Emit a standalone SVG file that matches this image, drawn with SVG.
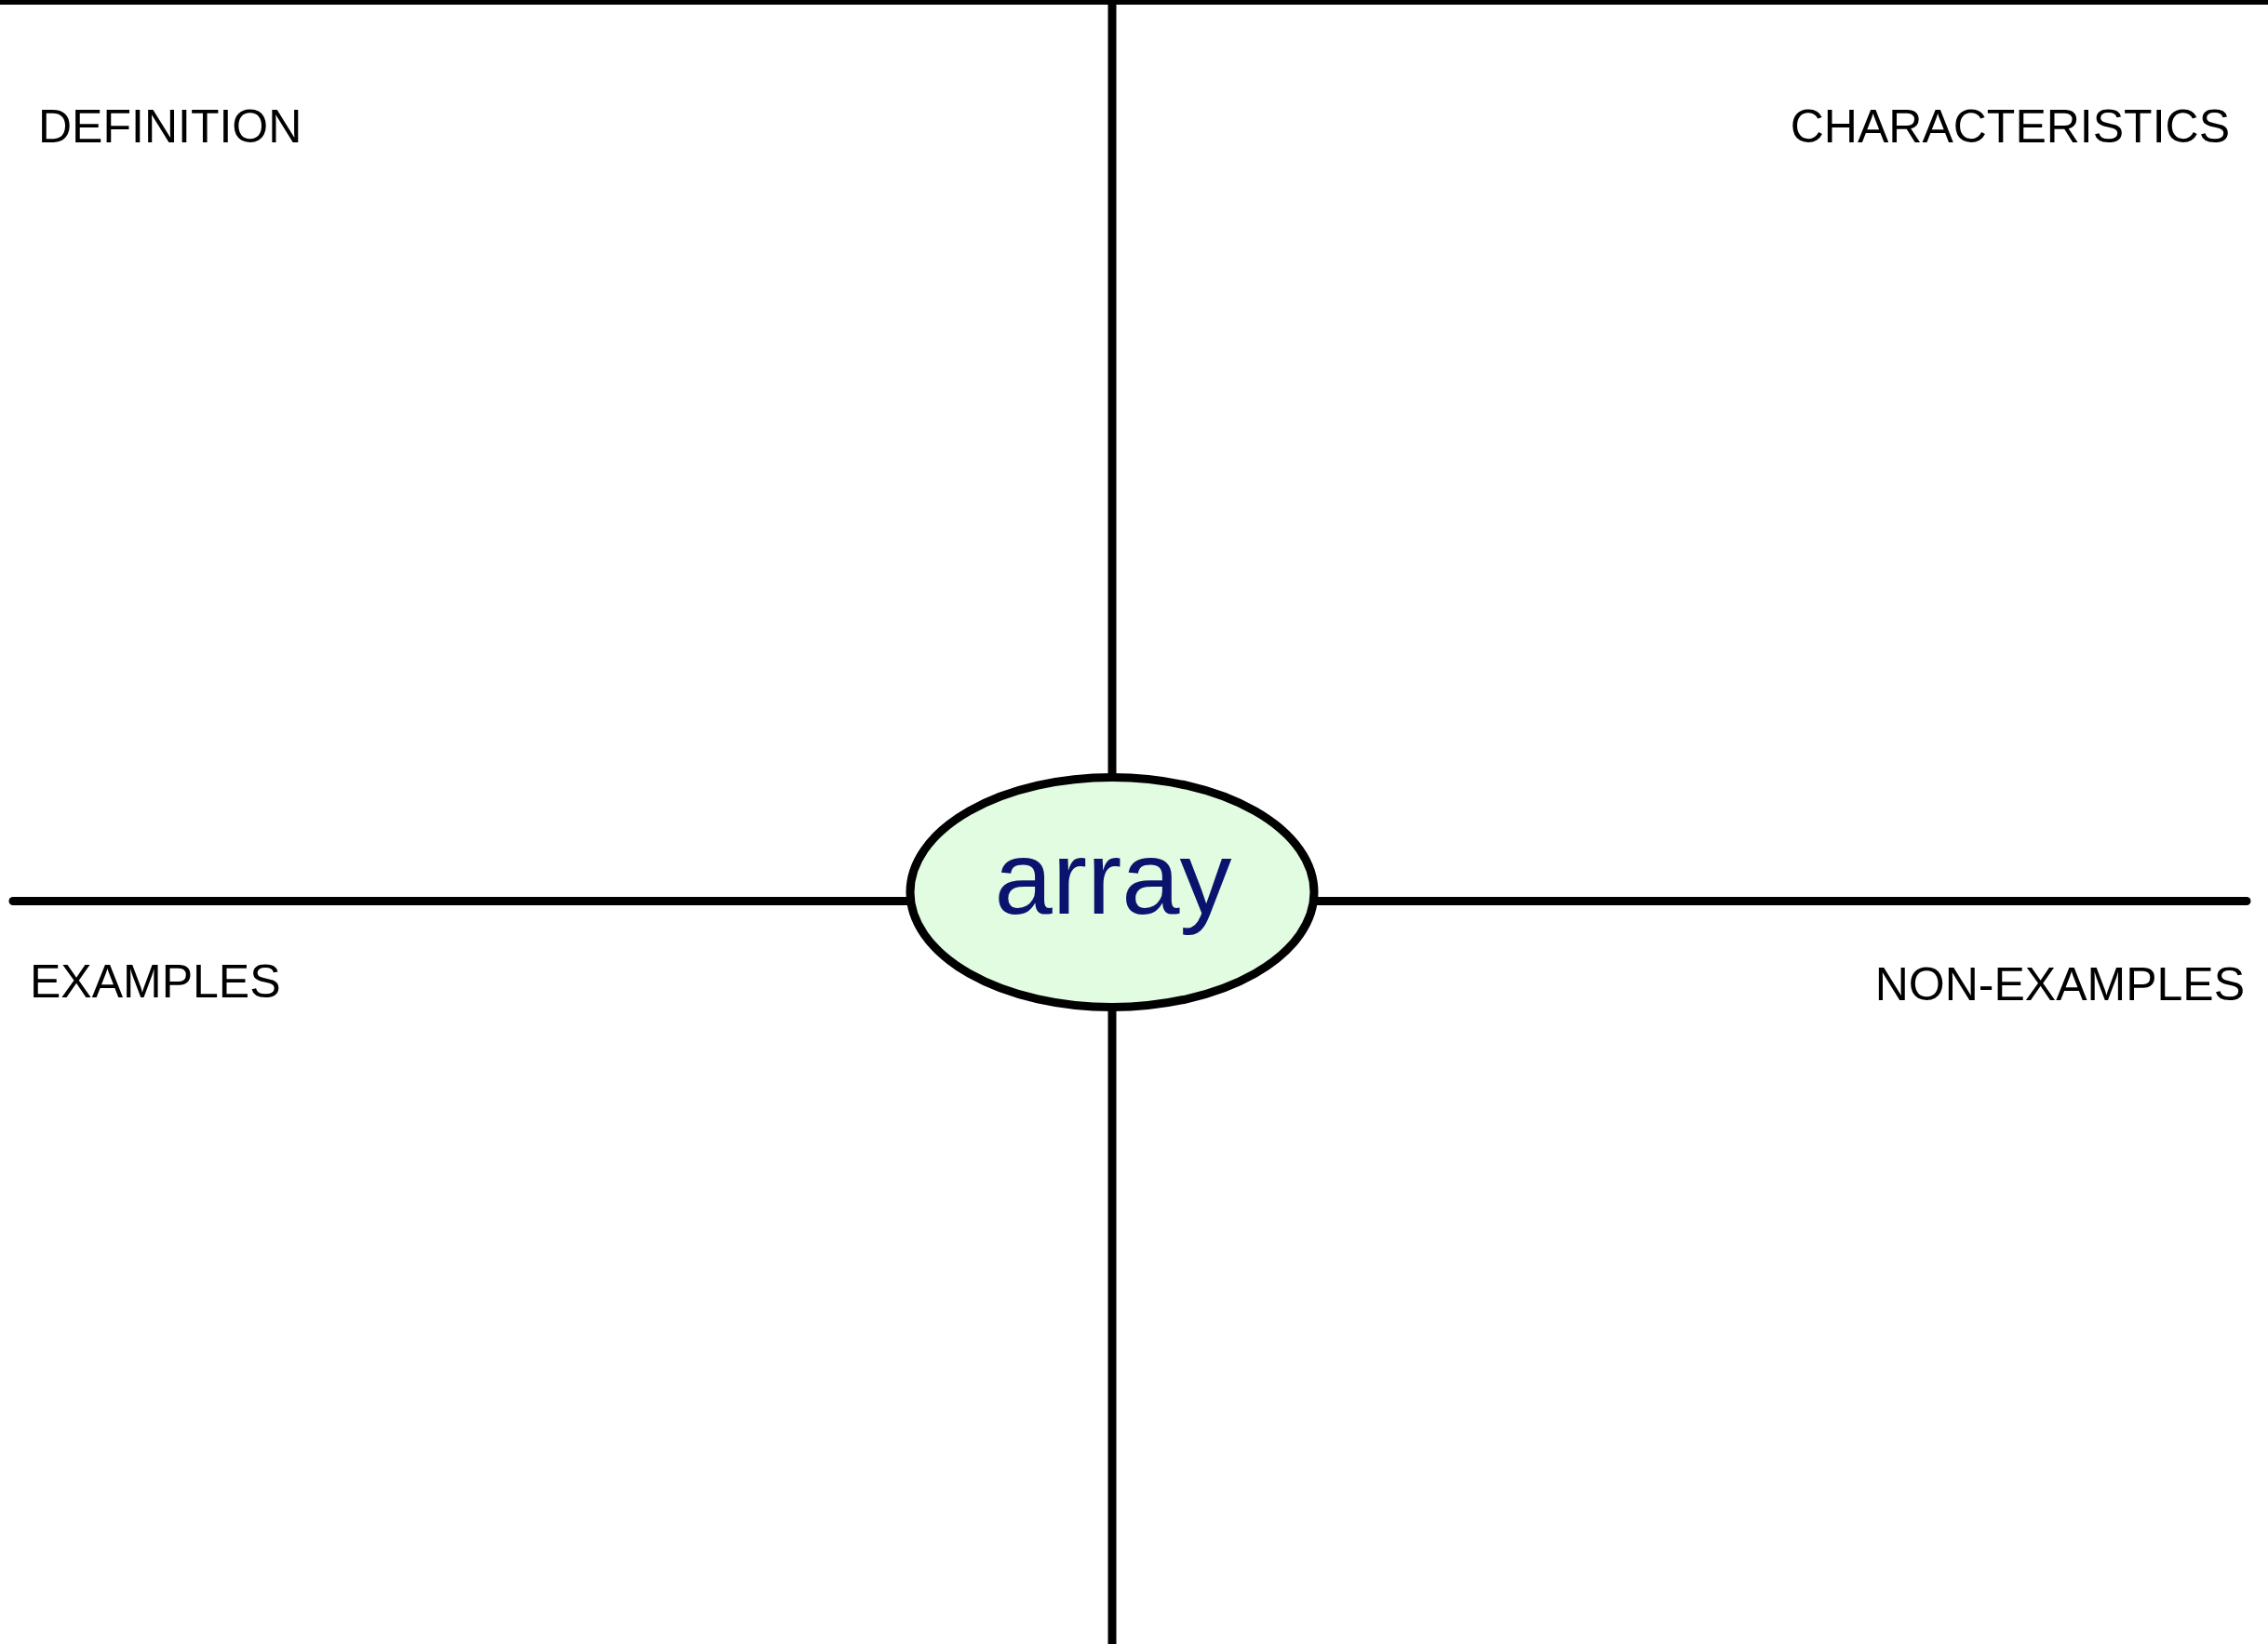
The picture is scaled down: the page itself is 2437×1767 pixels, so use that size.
<svg xmlns="http://www.w3.org/2000/svg" width="2437" height="1767" viewBox="0 0 2437 1767">
  <style>
    .rule { stroke: #000; stroke-width: 9; fill: none; stroke-linecap: round; }
    .label { font-family: "Liberation Sans", Arial, sans-serif; font-size: 50px; fill: #000; }
    .term { font-family: "Liberation Sans", Arial, sans-serif; font-size: 112px; fill: #0a146e; text-anchor: middle; }
  </style>
  <rect x="0" y="0" width="2437" height="1767" fill="#fff"/>

  <!-- quadrant dividers -->
  <g id="connectors">
    <line class="rule" x1="-10" y1="0.5" x2="2447" y2="0.5" style="stroke-linecap:butt"/>
    <line class="rule" x1="1195" y1="-10" x2="1195" y2="835" style="stroke-linecap:butt"/>
    <line class="rule" x1="1195" y1="1083" x2="1195" y2="1777" style="stroke-linecap:butt"/>
    <line class="rule" x1="14" y1="968.5" x2="977" y2="968.5"/>
    <line class="rule" x1="1413" y1="968.5" x2="2414" y2="968.5"/>
  </g>

  <!-- central term -->
  <g id="node-array">
    <ellipse cx="1195" cy="959" rx="217" ry="123.5" fill="#e1fce0" stroke="#000" stroke-width="9"/>
    <text class="term" x="1196" y="982">array</text>
  </g>

  <g id="node-definition">
    <text class="label" x="41" y="153">DEFINITION</text>
  </g>
  <g id="node-characteristics">
    <text class="label" x="2396" y="153" text-anchor="end">CHARACTERISTICS</text>
  </g>
  <g id="node-examples">
    <text class="label" x="32" y="1072">EXAMPLES</text>
  </g>
  <g id="node-non-examples">
    <text class="label" x="2412" y="1075" text-anchor="end">NON-EXAMPLES</text>
  </g>
</svg>
